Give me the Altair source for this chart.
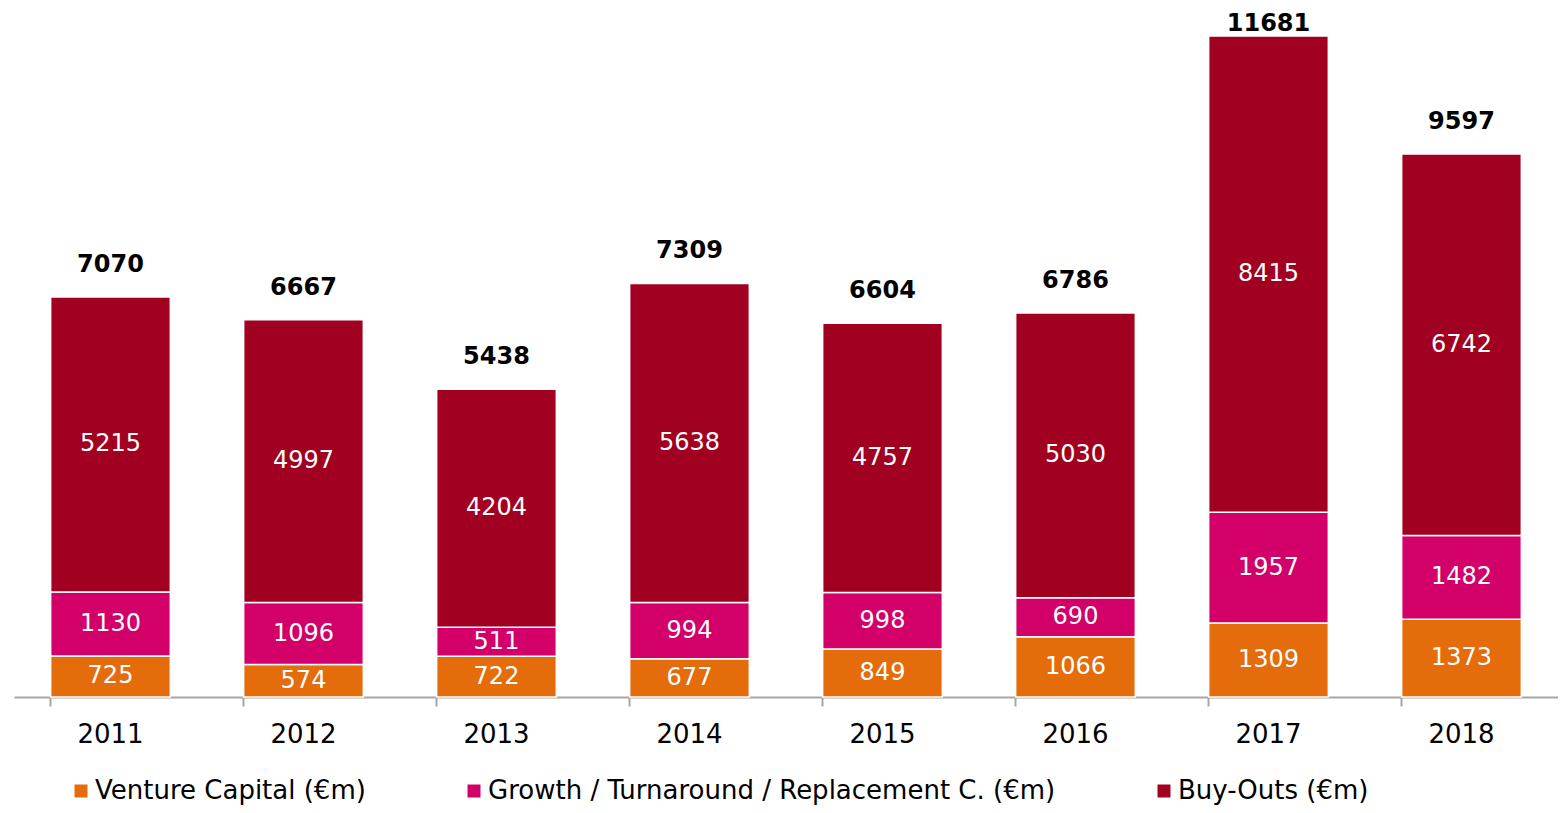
import altair as alt
import pandas as pd

years = ["2011", "2012", "2013", "2014", "2015", "2016", "2017", "2018"]
series = ["Venture Capital (€m)", "Growth / Turnaround / Replacement C. (€m)", "Buy-Outs (€m)"]
venture = [725, 574, 722, 677, 849, 1066, 1309, 1373]
growth = [1130, 1096, 511, 994, 998, 690, 1957, 1482]
buyouts = [5215, 4997, 4204, 5638, 4757, 5030, 8415, 6742]
totals = [7070, 6667, 5438, 7309, 6604, 6786, 11681, 9597]
colors = ["#E46C0A", "#D20068", "#A20020"]

rows = []
for i, y in enumerate(years):
    for k, (s, vals) in enumerate(zip(series, [venture, growth, buyouts])):
        rows.append({"year": y, "series": s, "value": vals[i], "order": k})
df = pd.DataFrame(rows)
tot = pd.DataFrame({"year": years, "total": totals})

FONT = "DejaVu Sans"
yscale = alt.Scale(domain=[0, 12176], nice=False, zero=True)
xenc = alt.X("year:N", sort=years, title=None,
             scale=alt.Scale(paddingInner=0.38, paddingOuter=0.19),
             axis=alt.Axis(labelFont=FONT, labelFontSize=26, labelColor="#000000",
                           labelAngle=0, domainColor="#A6A6A6", domainWidth=2,
                           tickColor="#A6A6A6", tickWidth=2, tickSize=9,
                           bandPosition=0, labelPadding=15))

base = alt.Chart(df).transform_stack(
    stack="value", groupby=["year"], as_=["y0", "y1"],
    sort=[alt.SortField("order", order="ascending")]
).transform_calculate(mid="(datum.y0 + datum.y1) / 2")

bars = base.mark_bar(stroke="white", strokeWidth=1.5).encode(
    x=xenc,
    y=alt.Y("y0:Q", scale=yscale, axis=None),
    y2="y1:Q",
    color=alt.Color("series:N", sort=series,
                    scale=alt.Scale(domain=series, range=colors),
                    legend=alt.Legend(title=None, orient="none", direction="horizontal",
                                      columns=3, legendX=54, legendY=770,
                                      symbolType="square", symbolSize=169,
                                      symbolStrokeWidth=0, labelFont=FONT,
                                      labelFontSize=26, labelColor="#000000",
                                      columnPadding=95, labelOffset=1,
                                      labelLimit=1000)),
)

inner = base.mark_text(color="white", font=FONT, fontSize=24, baseline="middle").encode(
    x=alt.X("year:N", sort=years),
    y=alt.Y("mid:Q", scale=yscale),
    text="value:Q",
)

top = alt.Chart(tot).transform_calculate(
    ly="min(datum.total, 11330)"
).mark_text(color="#000000", font=FONT, fontSize=24, fontWeight="bold",
            baseline="middle", dy=-32).encode(
    x=alt.X("year:N", sort=years),
    y=alt.Y("ly:Q", scale=yscale),
    text="total:Q",
)

chart = alt.layer(bars, inner, top).properties(
    width=1544, height=689,
    autosize=alt.AutoSizeParams(type="none"),
    padding={"left": 6, "top": 0, "right": 0, "bottom": 108},
).configure_view(stroke=None)

chart.save("out.html", embed_options={"renderer": "svg", "actions": False})
